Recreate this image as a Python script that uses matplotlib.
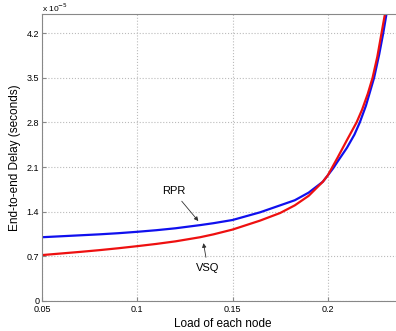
import matplotlib
matplotlib.use("Agg")
import matplotlib.pyplot as plt

plt.rcParams['font.family'] = ['Liberation Sans', 'DejaVu Sans']

# load of each node vs end-to-end delay (x 1e-5 s)
load_rpr = [0.05, 0.06, 0.07, 0.08, 0.09, 0.10, 0.11, 0.12, 0.133, 0.14, 0.15,
            0.1644, 0.175, 0.1827, 0.19, 0.1974, 0.20, 0.2028, 0.205, 0.21,
            0.214, 0.2168, 0.22, 0.2243, 0.227, 0.2291, 0.2308]
delay_rpr = [1.00, 1.015, 1.03, 1.045, 1.063, 1.085, 1.11, 1.14, 1.19, 1.22, 1.27,
             1.39, 1.50, 1.58, 1.70, 1.87, 1.97, 2.08, 2.18, 2.40,
             2.61, 2.80, 3.06, 3.50, 3.87, 4.20, 4.50]

load_vsq = [0.05, 0.06, 0.07, 0.08, 0.09, 0.10, 0.11, 0.12, 0.133, 0.14, 0.15,
            0.1644, 0.175, 0.1827, 0.19, 0.1974, 0.20, 0.2024, 0.205, 0.21,
            0.2151, 0.218, 0.221, 0.2235, 0.226, 0.2282, 0.2300]
delay_vsq = [0.72, 0.745, 0.77, 0.797, 0.827, 0.86, 0.895, 0.935, 1.00, 1.045, 1.12,
             1.26, 1.38, 1.50, 1.65, 1.87, 1.97, 2.10, 2.24, 2.52,
             2.80, 3.00, 3.25, 3.50, 3.83, 4.20, 4.50]

xticks = [0.05, 0.1, 0.15, 0.2]
xtick_labels = ['0.05', '0.1', '0.15', '0.2']
yticks = [0, 0.7, 1.4, 2.1, 2.8, 3.5, 4.2]
ytick_labels = ['0', '0.7', '1.4', '2.1', '2.8', '3.5', '4.2']

fig = plt.figure(figsize=(3.96, 3.31), dpi=100)
ax = fig.add_axes([42/396, 30/331, 362/396, 287/331])

ax.plot(load_rpr, delay_rpr, color='#1010ee', lw=1.6, solid_joinstyle='round')
ax.plot(load_vsq, delay_vsq, color='#ee1010', lw=1.6, solid_joinstyle='round')

ax.set_xlim(0.05, 0.24)
ax.set_ylim(0, 4.5)
ax.set_xticks(xticks)
ax.set_xticklabels(xtick_labels, fontsize=6.5)
ax.set_yticks(yticks)
ax.set_yticklabels(ytick_labels, fontsize=6.5)
ax.tick_params(direction='in', length=3, color='#888888', pad=2)
ax.tick_params(axis='x', pad=3)
ax.grid(True, linestyle=':', color='#bbbbbb', lw=0.8)
for s in ax.spines.values():
    s.set_color('#888888')

ax.set_xlabel('Load of each node', fontsize=8.5, labelpad=3)
ax.set_ylabel('End-to-end Delay (seconds)', fontsize=8.5, labelpad=4)
fig.text(42/396, 1 - 8/331, r'x 10$^{-5}$', fontsize=6, va='center', ha='left')

arrow = dict(arrowstyle='-|>', color='#333333', lw=0.6, mutation_scale=6)
ax.annotate('RPR', xy=(0.133, 1.22), xytext=(0.119, 1.72),
            fontsize=8, ha='center', va='center', arrowprops=arrow)
ax.annotate('VSQ', xy=(0.1345, 0.95), xytext=(0.137, 0.52),
            fontsize=8, ha='center', va='center', arrowprops=arrow)

fig.savefig('out.png', dpi=100)
